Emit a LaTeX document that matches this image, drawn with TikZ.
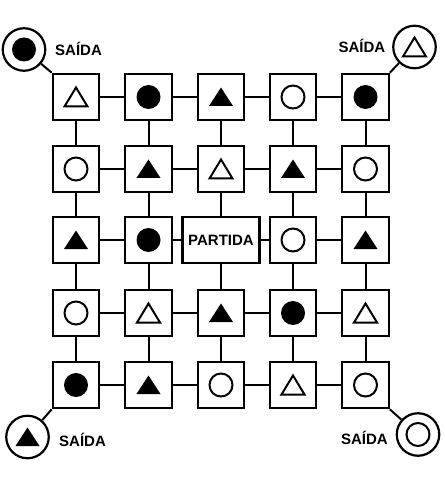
\documentclass[tikz,border=0pt]{standalone}
\usepackage{fontspec}
\setmainfont{Liberation Sans}
\begin{document}
\begin{tikzpicture}[x=1pt, y=-1pt,
    cell/.style={draw, line width=2.2pt, minimum size=46.5pt, inner sep=0pt},
    exit/.style={circle, draw, line width=2.2pt, minimum size=42.5pt, inner sep=0pt},
    link/.style={line width=2pt},
    lbl/.style={inner sep=0pt, font=\bfseries\fontsize{15}{18}\selectfont},
    ocirc/.pic={\draw[line width=2pt] (0,0) circle (11.5pt);},
    fcirc/.pic={\fill (0,0) circle (12pt);},
    otri/.pic={\draw[line width=2pt, line join=miter] (-11.5,9.5) -- (11.5,9.5) -- (0,-9.5) -- cycle;},
    ftri/.pic={\fill (-12,9) -- (12,9) -- (0,-9.5) -- cycle;},
]

        \useasboundingbox (0,0) rectangle (444,478);

        % The squares of the grid
        \node[cell] (c11) at (76,97) {};
        \node[cell] (c12) at (148.5,97) {};
        \node[cell] (c13) at (221,97) {};
        \node[cell] (c14) at (293,97) {};
        \node[cell] (c15) at (365.5,97) {};

        \node[cell] (c21) at (76,169) {};
        \node[cell] (c22) at (148.5,169) {};
        \node[cell] (c23) at (221,169) {};
        \node[cell] (c24) at (293,169) {};
        \node[cell] (c25) at (365.5,169) {};

        \node[cell] (c31) at (76,240) {};
        \node[cell] (c32) at (148.5,240) {};
        \node[cell, minimum width=77pt, lbl] (c33) at (221,240) {PARTIDA};
        \node[cell] (c34) at (293,240) {};
        \node[cell] (c35) at (365.5,240) {};

        \node[cell] (c41) at (76,313) {};
        \node[cell] (c42) at (148.5,313) {};
        \node[cell] (c43) at (221,313) {};
        \node[cell] (c44) at (293,313) {};
        \node[cell] (c45) at (365.5,313) {};

        \node[cell] (c51) at (76,385) {};
        \node[cell] (c52) at (148.5,385) {};
        \node[cell] (c53) at (221,385) {};
        \node[cell] (c54) at (293,385) {};
        \node[cell] (c55) at (365.5,385) {};

        % The exits in the corners
        \node[exit] (exitNW) at (24,49.5) {};
        \node[exit] (exitNE) at (414.5,47) {};
        \node[exit] (exitSW) at (27.5,437) {};
        \node[exit] (exitSE) at (418,434.5) {};

        % Rows
        \draw[link] (c11) -- (c12) (c12) -- (c13) (c13) -- (c14) (c14) -- (c15);
        \draw[link] (c21) -- (c22) (c22) -- (c23) (c23) -- (c24) (c24) -- (c25);
        \draw[link] (c31) -- (c32) (c32) -- (c33) (c33) -- (c34) (c34) -- (c35);
        \draw[link] (c41) -- (c42) (c42) -- (c43) (c43) -- (c44) (c44) -- (c45);
        \draw[link] (c51) -- (c52) (c52) -- (c53) (c53) -- (c54) (c54) -- (c55);

        % Columns
        \draw[link] (c11) -- (c21) (c21) -- (c31) (c31) -- (c41) (c41) -- (c51);
        \draw[link] (c12) -- (c22) (c22) -- (c32) (c32) -- (c42) (c42) -- (c52);
        \draw[link] (c13) -- (c23) (c23) -- (c33) (c33) -- (c43) (c43) -- (c53);
        \draw[link] (c14) -- (c24) (c24) -- (c34) (c34) -- (c44) (c44) -- (c54);
        \draw[link] (c15) -- (c25) (c25) -- (c35) (c35) -- (c45) (c45) -- (c55);

        % Exits to the corner squares
        \draw[link] (exitNW) -- (c11.north west);
        \draw[link] (exitNE) -- (c15.north east);
        \draw[link] (exitSW) -- (c51.south west);
        \draw[link] (exitSE) -- (c55.south east);

        % Symbols in the squares
        \pic at (c11) {otri};
        \pic at (c12) {fcirc};
        \pic at (c13) {ftri};
        \pic at (c14) {ocirc};
        \pic at (c15) {fcirc};

        \pic at (c21) {ocirc};
        \pic at (c22) {ftri};
        \pic at (c23) {otri};
        \pic at (c24) {ftri};
        \pic at (c25) {ocirc};

        \pic at (c31) {ftri};
        \pic at (c32) {fcirc};
        \pic at (c34) {ocirc};
        \pic at (c35) {ftri};

        \pic at (c41) {ocirc};
        \pic at (c42) {otri};
        \pic at (c43) {ftri};
        \pic at (c44) {fcirc};
        \pic at (c45) {otri};

        \pic at (c51) {fcirc};
        \pic at (c52) {ftri};
        \pic at (c53) {ocirc};
        \pic at (c54) {otri};
        \pic at (c55) {ocirc};

        % Symbols in the exits
        \pic at (exitNW) {fcirc};
        \pic at (exitNE) {otri};
        \pic at (exitSW) {ftri};
        \pic at (exitSE) {ocirc};

        % Labels of the exits
        \node[lbl, anchor=base west] (saidaNW) at (55,56) {SAÍDA};
        \node[lbl, anchor=base east] (saidaNE) at (385.5,53) {SAÍDA};
        \node[lbl, anchor=base west] (saidaSW) at (59,446.5) {SAÍDA};
        \node[lbl, anchor=base east] (saidaSE) at (388,444) {SAÍDA};

\end{tikzpicture}
\end{document}
